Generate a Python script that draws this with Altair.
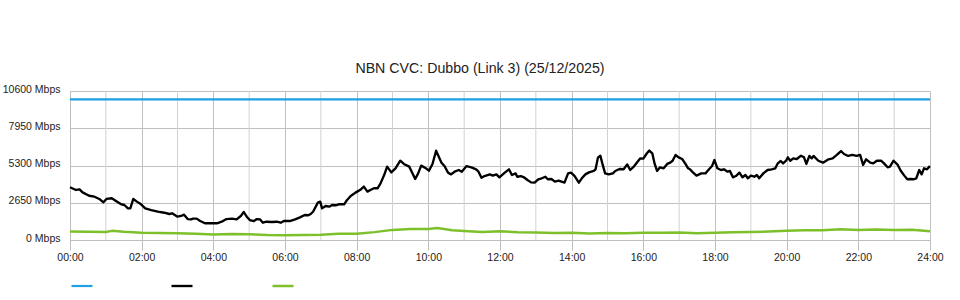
import altair as alt
import pandas as pd

TITLE = "NBN CVC: Dubbo (Link 3) (25/12/2025)"
SERIES = ["Capacity", "Download", "Upload"]
COLORS = ["#1ea0e1", "#000000", "#7dc02b"]

# capacity (minutes after midnight, Mbps)
cap_min = [0, 1440]
cap_val = [10000, 10000]

# download traffic (minutes after midnight, Mbps)
dl_min = [0, 10, 16, 21, 32, 41, 49, 56, 61, 70, 77, 85, 91, 97, 101, 106, 112, 119, 126, 136,
          147, 158, 166, 171, 180, 186, 191, 197, 203, 206, 212, 218, 226, 234, 246, 254, 262, 271, 279, 286,
          291, 296, 301, 308, 313, 318, 323, 329, 338, 346, 353, 358, 368, 377, 385, 393, 399, 403, 407, 415,
          419, 422, 428, 434, 439, 445, 450, 459, 464, 470, 478, 487, 492, 498, 503, 509, 515, 520, 526, 531,
          538, 545, 553, 559, 568, 573, 578, 583, 588, 596, 601, 607, 613, 622, 627, 633, 638, 644, 651, 656,
          664, 672, 680, 684, 689, 694, 703, 708, 714, 719, 728, 735, 740, 746, 749, 755, 760, 766, 772, 778,
          784, 790, 796, 800, 806, 812, 818, 828, 834, 839, 845, 852, 857, 863, 869, 877, 880, 884, 888, 892,
          896, 902, 909, 913, 920, 927, 933, 938, 944, 949, 955, 960, 966, 970, 975, 979, 983, 988, 994, 1000,
          1005, 1009, 1014, 1019, 1025, 1030, 1035, 1038, 1043, 1049, 1057, 1064, 1070, 1075, 1079, 1084, 1090, 1095, 1101, 1105,
          1110, 1115, 1121, 1126, 1131, 1135, 1140, 1146, 1150, 1154, 1161, 1168, 1175, 1181, 1185, 1190, 1194, 1199, 1202, 1206,
          1211, 1217, 1224, 1229, 1233, 1238, 1242, 1245, 1253, 1261, 1270, 1277, 1284, 1291, 1296, 1303, 1310, 1317, 1323, 1328,
          1333, 1340, 1345, 1351, 1358, 1363, 1369, 1373, 1379, 1386, 1391, 1397, 1402, 1407, 1413, 1417, 1422, 1426, 1430, 1435,
          1439, 1440]
dl_val = [3750, 3560, 3600, 3390, 3150, 3080, 2920, 2680, 2920, 2970, 2780, 2560, 2490, 2250, 2250, 2920, 2730, 2540, 2250, 2130,
          2020, 1940, 1850, 1900, 1660, 1710, 1800, 1490, 1470, 1520, 1520, 1350, 1190, 1190, 1190, 1300, 1490, 1520, 1470, 1710,
          1990, 1660, 1420, 1350, 1490, 1470, 1230, 1300, 1280, 1300, 1230, 1350, 1350, 1470, 1610, 1780, 1760, 1850, 2010, 2660,
          2730, 2250, 2420, 2370, 2490, 2470, 2540, 2540, 2850, 3130, 3370, 3600, 3800, 3440, 3560, 3680, 3680, 4030, 4620, 5220,
          4810, 5100, 5640, 5410, 5220, 4790, 4340, 4740, 5290, 5100, 4930, 5410, 6350, 5500, 5260, 4790, 4670, 4860, 4980, 4860,
          5260, 5170, 5030, 4860, 4430, 4550, 4670, 4580, 4670, 4460, 4790, 5030, 4620, 4740, 4500, 4550, 4460, 4270, 4100, 4080,
          4320, 4390, 4500, 4320, 4340, 4150, 4220, 4080, 4740, 4790, 4550, 4080, 4390, 4670, 4810, 4910, 5030, 5860, 6000, 5340,
          4740, 4670, 4740, 4910, 5050, 5030, 5380, 4980, 5220, 5500, 5810, 5790, 6170, 6360, 6170, 5410, 4910, 5170, 5100, 5410,
          5500, 5640, 6050, 5880, 5760, 5450, 5100, 5030, 4810, 4580, 4740, 4740, 5030, 5260, 5690, 5100, 4980, 5030, 4860, 4910,
          4460, 4550, 4790, 4460, 4620, 4390, 4580, 4500, 4620, 4390, 4740, 4980, 5030, 5100, 5450, 5620, 5450, 5640, 5880, 5640,
          5810, 5760, 6000, 5880, 5410, 5980, 5810, 5980, 5640, 5500, 5740, 5810, 6050, 6330, 6120, 5980, 6050, 5980, 6050, 5340,
          5740, 5500, 5450, 5640, 5640, 5450, 5170, 5220, 5640, 5340, 4930, 4580, 4320, 4340, 4320, 4390, 4980, 4670, 5100, 5030,
          5220, 5260]

# upload traffic (minutes after midnight, Mbps)
ul_min = [0, 30, 60, 70, 90, 120, 150, 180, 210, 240, 270, 300, 330, 360, 390, 420, 450, 480, 510, 540,
          570, 600, 615, 640, 660, 690, 720, 750, 780, 810, 840, 870, 900, 930, 960, 990, 1020, 1050, 1080, 1110,
          1140, 1170, 1200, 1230, 1260, 1290, 1320, 1350, 1380, 1410, 1440]
ul_val = [600, 590, 570, 650, 580, 520, 500, 480, 440, 400, 420, 410, 350, 330, 360, 380, 440, 450, 560, 720,
          780, 790, 860, 700, 640, 570, 620, 560, 530, 500, 520, 470, 500, 480, 510, 520, 540, 480, 510, 560,
          570, 600, 650, 700, 690, 760, 720, 740, 710, 730, 620]

y_ticks = [0, 2650, 5300, 7950, 10600]
x_ticks = list(range(0, 25, 2))
minor_hours = list(range(1, 24, 2))

rows = []
for name, mins, vals in [(SERIES[0], cap_min, cap_val), (SERIES[1], dl_min, dl_val), (SERIES[2], ul_min, ul_val)]:
    for m, v in zip(mins, vals):
        rows.append({"series": name, "hour": m / 60.0, "mbps": v, "order": SERIES.index(name)})
df = pd.DataFrame(rows)
minor_df = pd.DataFrame({"hour": minor_hours})

FONT = "Liberation Sans"

xscale = alt.Scale(domain=[0, 24], nice=False, zero=False)
yscale = alt.Scale(domain=[0, 10600], nice=False)

minor = alt.Chart(minor_df).mark_rule(color="#d2d2d2", strokeWidth=1).encode(
    x=alt.X("hour:Q", scale=xscale)
)

lines = alt.Chart(df).mark_line(strokeJoin="round").encode(
    x=alt.X("hour:Q", scale=xscale,
            axis=alt.Axis(values=x_ticks, title=None, grid=True, gridColor="#c0c0c0", gridWidth=1,
                          tickSize=10, tickColor="#bdbdbd", domainColor="#bdbdbd", labelFlush=False,
                          labelExpr="(datum.value < 10 ? '0' : '') + datum.value + ':00'",
                          labelFontSize=10.5, labelColor="#222", labelPadding=2)),
    y=alt.Y("mbps:Q", scale=yscale,
            axis=alt.Axis(values=y_ticks, title=None, grid=True, gridColor="#c0c0c0", gridWidth=1,
                          ticks=False, domainColor="#bdbdbd", labelExpr="datum.value + ' Mbps'",
                          labelFontSize=10.5, labelColor="#222", labelPadding=10, labelOffset=-2)),
    color=alt.Color("series:N", scale=alt.Scale(domain=SERIES, range=COLORS),
                    legend=alt.Legend(orient="none", legendX=0, legendY=183, direction="horizontal",
                                      symbolType="stroke", symbolSize=441, symbolStrokeWidth=3,
                                      labelExpr="''", title=None, columnPadding=69, labelOffset=0,
                                      padding=0)),
    strokeWidth=alt.StrokeWidth("series:N", scale=alt.Scale(domain=SERIES, range=[2.2, 2.5, 3]), legend=None),
    order="order:Q",
    detail="series:N",
)

chart = alt.layer(minor, lines).properties(
    width=860, height=149,
    title=alt.TitleParams(TITLE, fontSize=14.2, font=FONT, fontWeight="normal", color="#222",
                          anchor="middle", offset=8, dx=-20),
    autosize=alt.AutoSizeParams(type="none"),
    padding={"left": 70, "top": 91, "right": 30, "bottom": 60},
).configure(font=FONT).configure_view(stroke=None).configure_axis(labelFont=FONT)

chart.save("out.html", embed_options={"renderer": "svg", "actions": False})
